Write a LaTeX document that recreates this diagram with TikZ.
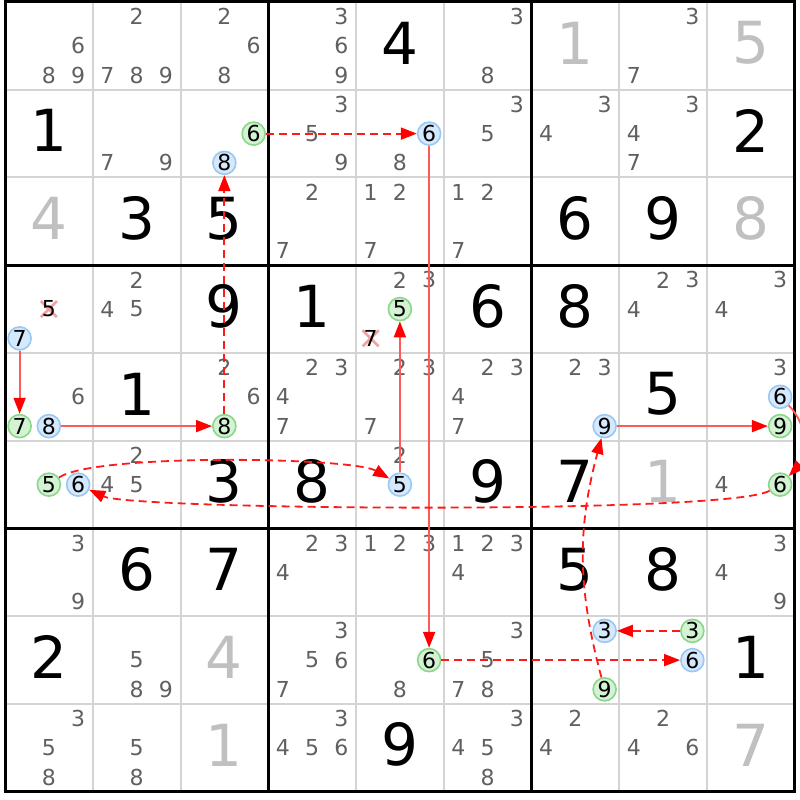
\documentclass[tikz,border=0pt]{standalone}
\usepackage{fontspec}
\setmainfont{DejaVu Sans}
\usetikzlibrary{arrows.meta}
\definecolor{candc}{HTML}{606060}
\definecolor{givc}{HTML}{C0C0C0}
\definecolor{gridc}{HTML}{D4D4D4}
\definecolor{bfill}{HTML}{D6E8FC}
\definecolor{bline}{HTML}{98C8F4}
\definecolor{gfill}{HTML}{D4F2D4}
\definecolor{gline}{HTML}{88D888}
\definecolor{solidred}{HTML}{FF5A5A}
\definecolor{dashred}{HTML}{FF1A1A}
\definecolor{xred}{HTML}{F4A0A0}
\newcommand\cands[3]{\foreach \k in {#3}{\node[cand] (k-#1-#2-\k) at ({cx(#2,\k)},{cy(#1,\k)}) {\k};}}
\newcommand\bigdig[3]{\node[bigd] (d-#1-#2) at ({ccx(#2)},{ccy(#1)+3}) {#3};}
\newcommand\graydig[3]{\node[grayd] (d-#1-#2) at ({ccx(#2)},{ccy(#1)+3}) {#3};}
\newcommand\bcirc[3]{\node[bc] (r#1c#2n#3) at ({cx(#2,#3)},{cy(#1,#3)}) {#3};}
\newcommand\gcirc[3]{\node[gc] (r#1c#2n#3) at ({cx(#2,#3)},{cy(#1,#3)}) {#3};}
\newcommand\xcand[3]{%
  \draw[xmark] ({cx(#2,#3)-8},{cy(#1,#3)-8}) -- ({cx(#2,#3)+8},{cy(#1,#3)+8});
  \draw[xmark] ({cx(#2,#3)-8},{cy(#1,#3)+8}) -- ({cx(#2,#3)+8},{cy(#1,#3)-8});
  \node[xc] (x-#1-#2-#3) at ({cx(#2,#3)},{cy(#1,#3)}) {#3};}
\tikzset{
  cand/.style={inner sep=0pt, text=candc, font=\fontsize{22}{22}\selectfont},
  xc/.style={inner sep=0pt, text=black, font=\fontsize{22}{22}\selectfont},
  bigd/.style={inner sep=0pt, text=black, font=\fontsize{58}{58}\selectfont},
  grayd/.style={inner sep=0pt, text=givc, font=\fontsize{58}{58}\selectfont},
  bc/.style={circle, inner sep=0pt, minimum size=23pt, draw=bline, fill=bfill, line width=1.6pt, text=black, font=\fontsize{22}{22}\selectfont},
  gc/.style={circle, inner sep=0pt, minimum size=23pt, draw=gline, fill=gfill, line width=1.6pt, text=black, font=\fontsize{22}{22}\selectfont},
  xmark/.style={draw=xred, line width=2.6pt},
  thin/.style={draw=gridc, line width=2pt},
  thick/.style={draw=black, line width=3pt},
  sarr/.style={draw=solidred, line width=1.8pt, -{Triangle[length=16pt,width=12pt,color=red]}},
  darr/.style={draw=dashred, line width=1.8pt, dash pattern=on 8pt off 5pt, -{Triangle[length=16pt,width=12pt,color=red]}},
}
\begin{document}
\begin{tikzpicture}[x=1pt,y=1pt,
  declare function={cx(\c,\k)=5+(\c-1)*87.75+mod(\k-1,3)*29.25+14.625;
    cy(\r,\k)=798-(\r-1)*87.75-floor((\k-1)/3)*29.25-14.625;
    ccx(\c)=5+(\c-0.5)*87.75; ccy(\r)=798-(\r-0.5)*87.75;}]
\useasboundingbox (0,0) rectangle (800,800);
\fill[white] (0,0) rectangle (800,800);
% grid
\foreach \i in {1,2,4,5,7,8}{
  \draw[thin] ({5+\i*87.75},798) -- ({5+\i*87.75},{798-9*87.75});
  \draw[thin] (5,{798-\i*87.75}) -- ({5+9*87.75},{798-\i*87.75});
}
\foreach \i in {0,3,6,9}{
  \draw[thick] ({5+\i*87.75},{798+1.5}) -- ({5+\i*87.75},{798-9*87.75-1.5});
  \draw[thick] ({5-1.5},{798-\i*87.75}) -- ({5+9*87.75+1.5},{798-\i*87.75});
}
% row 1
\cands{1}{1}{6,8,9}
\cands{1}{2}{2,7,8,9}
\cands{1}{3}{2,6,8}
\cands{1}{4}{3,6,9}
\bigdig{1}{5}{4}
\cands{1}{6}{3,8}
\graydig{1}{7}{1}
\cands{1}{8}{3,7}
\graydig{1}{9}{5}
% row 2
\bigdig{2}{1}{1}
\cands{2}{2}{7,9}
\gcirc{2}{3}{6}
\bcirc{2}{3}{8}
\cands{2}{4}{3,5,9}
\bcirc{2}{5}{6}
\cands{2}{5}{8}
\cands{2}{6}{3,5}
\cands{2}{7}{3,4}
\cands{2}{8}{3,4,7}
\bigdig{2}{9}{2}
% row 3
\graydig{3}{1}{4}
\bigdig{3}{2}{3}
\bigdig{3}{3}{5}
\cands{3}{4}{2,7}
\cands{3}{5}{1,2,7}
\cands{3}{6}{1,2,7}
\bigdig{3}{7}{6}
\bigdig{3}{8}{9}
\graydig{3}{9}{8}
% row 4
\xcand{4}{1}{5}
\bcirc{4}{1}{7}
\cands{4}{2}{2,4,5}
\bigdig{4}{3}{9}
\bigdig{4}{4}{1}
\cands{4}{5}{2,3}
\gcirc{4}{5}{5}
\xcand{4}{5}{7}
\bigdig{4}{6}{6}
\bigdig{4}{7}{8}
\cands{4}{8}{2,3,4}
\cands{4}{9}{3,4}
% row 5
\cands{5}{1}{6}
\gcirc{5}{1}{7}
\bcirc{5}{1}{8}
\bigdig{5}{2}{1}
\cands{5}{3}{2,6}
\gcirc{5}{3}{8}
\cands{5}{4}{2,3,4,7}
\cands{5}{5}{2,3,7}
\cands{5}{6}{2,3,4,7}
\cands{5}{7}{2,3}
\bcirc{5}{7}{9}
\bigdig{5}{8}{5}
\cands{5}{9}{3}
\bcirc{5}{9}{6}
\gcirc{5}{9}{9}
% row 6
\gcirc{6}{1}{5}
\bcirc{6}{1}{6}
\cands{6}{2}{2,4,5}
\bigdig{6}{3}{3}
\bigdig{6}{4}{8}
\cands{6}{5}{2}
\bcirc{6}{5}{5}
\bigdig{6}{6}{9}
\bigdig{6}{7}{7}
\graydig{6}{8}{1}
\cands{6}{9}{4}
\gcirc{6}{9}{6}
% row 7
\cands{7}{1}{3,9}
\bigdig{7}{2}{6}
\bigdig{7}{3}{7}
\cands{7}{4}{2,3,4}
\cands{7}{5}{1,2,3}
\cands{7}{6}{1,2,3,4}
\bigdig{7}{7}{5}
\bigdig{7}{8}{8}
\cands{7}{9}{3,4,9}
% row 8
\bigdig{8}{1}{2}
\cands{8}{2}{5,8,9}
\graydig{8}{3}{4}
\cands{8}{4}{3,5,6,7}
\gcirc{8}{5}{6}
\cands{8}{5}{8}
\cands{8}{6}{3,5,7,8}
\bcirc{8}{7}{3}
\gcirc{8}{7}{9}
\gcirc{8}{8}{3}
\bcirc{8}{8}{6}
\bigdig{8}{9}{1}
% row 9
\cands{9}{1}{3,5,8}
\cands{9}{2}{5,8}
\graydig{9}{3}{1}
\cands{9}{4}{3,4,5,6}
\bigdig{9}{5}{9}
\cands{9}{6}{3,4,5,8}
\cands{9}{7}{2,4}
\cands{9}{8}{2,4,6}
\graydig{9}{9}{7}
% chain
\draw[sarr] (r4c1n7) -- (r5c1n7);
\draw[sarr] (r5c1n8) -- (r5c3n8);
\draw[darr] (r5c3n8) -- (r2c3n8);
\draw[darr] (r2c3n6) -- (r2c5n6);
\draw[sarr] (r2c5n6) -- (r8c5n6);
\draw[darr] (r8c5n6) -- (r8c8n6);
\draw[darr] (r8c8n3) -- (r8c7n3);
\draw[darr] (r8c7n9) to[out=105,in=255] (r5c7n9);
\draw[sarr] (r5c7n9) -- (r5c9n9);
\draw[sarr] (r5c9n6) to[bend left=45] (r6c9n6);
\draw[darr] (r6c9n6) to[out=210,in=335,looseness=0.18] (r6c1n6);
\draw[darr] (r6c1n5) to[out=35,in=150,looseness=0.33] (r6c5n5);
\draw[sarr] (r6c5n5) -- (r4c5n5);
\end{tikzpicture}
\end{document}
